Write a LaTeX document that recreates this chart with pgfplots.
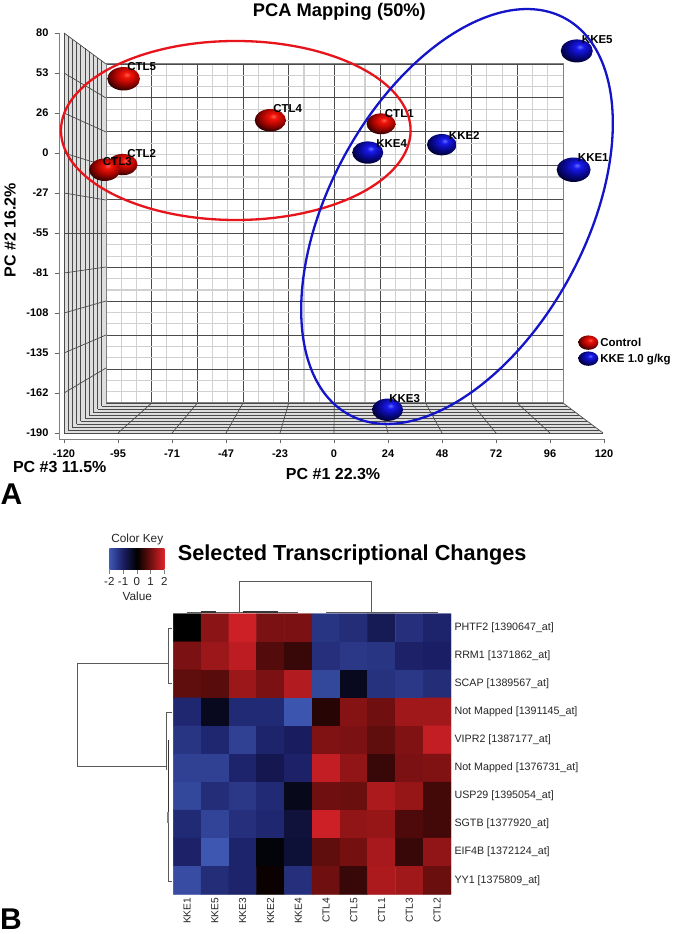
\documentclass[border=0pt]{standalone}
\usepackage{pgfplots}
\pgfplotsset{compat=1.18}
\usepackage{fontspec}
\setmainfont{Liberation Sans}
\newcommand\fs[1]{\fontsize{#1}{#1}\selectfont}
\definecolor{ctlred}{RGB}{232,20,28}
\definecolor{kkeblue}{RGB}{20,20,200}
\definecolor{gridd}{RGB}{75,75,75}
\definecolor{gridl}{RGB}{208,208,208}
\definecolor{wallc}{RGB}{222,222,222}
\definecolor{dend}{RGB}{90,90,90}
\definecolor{ra}{RGB}{255,95,80}\definecolor{rb}{RGB}{240,20,10}\definecolor{rc}{RGB}{175,5,0}\definecolor{rd}{RGB}{50,0,0}\definecolor{re}{RGB}{30,0,0}
\definecolor{ba}{RGB}{100,110,255}\definecolor{bb}{RGB}{25,25,235}\definecolor{bc}{RGB}{10,10,155}\definecolor{bd}{RGB}{0,0,50}\definecolor{be}{RGB}{0,0,30}
\definecolor{ka}{RGB}{62,88,178}\definecolor{kb}{RGB}{26,30,100}\definecolor{kd}{RGB}{112,15,15}\definecolor{ke}{RGB}{222,35,42}
\pgfdeclareradialshading{redballsh}{\pgfpoint{5bp}{9bp}}{
 color(0bp)=(ra);color(6bp)=(rb);color(17bp)=(rc);color(31bp)=(rd);color(100bp)=(re)}
\pgfdeclareradialshading{blueballsh}{\pgfpoint{5bp}{9bp}}{
 color(0bp)=(ba);color(6bp)=(bb);color(17bp)=(bc);color(31bp)=(bd);color(100bp)=(be)}
\pgfdeclareplotmark{redball}{\pgfpathellipse{\pgfpointorigin}{\pgfqpoint{\pgfplotmarksize}{0pt}}{\pgfqpoint{0pt}{0.72\pgfplotmarksize}}\pgfshadepath{redballsh}{0}\pgfusepath{discard}}
\pgfdeclareplotmark{blueball}{\pgfpathellipse{\pgfpointorigin}{\pgfqpoint{\pgfplotmarksize}{0pt}}{\pgfqpoint{0pt}{0.72\pgfplotmarksize}}\pgfshadepath{blueballsh}{0}\pgfusepath{discard}}
\pgfdeclarehorizontalshading{keysh}{100bp}{
 color(0bp)=(ka);color(25bp)=(ka);color(37.5bp)=(kb);color(50bp)=(black);color(62.5bp)=(kd);color(75bp)=(ke);color(100bp)=(ke)}
\pgfplotsset{colormap={hm}{rgb255(0cm)=(62,88,178) rgb255(1cm)=(26,30,100) rgb255(2cm)=(0,0,0) rgb255(3cm)=(112,15,15) rgb255(4cm)=(222,35,42)}}
\newcommand\seg[5]{\addplot[#1,mark=none] coordinates {(#2,#3) (#4,#5)};}
\newcommand\depth[4]{\seg{gridd,line width=0.8pt}{#1}{#2}{#1}{#3}\seg{gridd,line width=0.8pt}{#1}{#3}{#4}{#3}}
\newcommand\wdiag[2]{\seg{gridd,line width=0.7pt}{64}{#1}{106}{#2}}
\newcommand\fdiag[2]{\seg{gridd,line width=0.7pt}{#1}{433}{#2}{403}}
\newcommand\ball[5]{\addplot[only marks,mark=#1,mark size=#2pt,forget plot] coordinates {(#3,#4)};}
\newcommand\lab[3]{\node[font=\fs{11.5}\bfseries,inner sep=0pt,text=black] at (axis cs:#1,#2) {#3};}
\pgfplotsset{pxaxis/.style={at={(0pt,0pt)},anchor=south west,scale only axis,width=673pt,height=934pt,xmin=0,xmax=673,ymin=0,ymax=934,y dir=reverse,hide axis,clip=false}}
\begin{document}
\begin{tikzpicture}
\path[use as bounding box,fill=white] (0pt,0pt) rectangle (673pt,934pt);
% floor and left wall
\begin{axis}[pxaxis]
\addplot[fill=wallc,draw=none] coordinates {(64,33) (106,64) (106,403) (64,433)} -- cycle;
\addplot[fill=wallc,draw=none] coordinates {(106,403) (563,403) (603,433) (64,433)} -- cycle;
\depth{64}{33}{433}{603}
\depth{68.2}{36.1}{430}{599}
\depth{72.4}{39.2}{427}{595}
\depth{76.6}{42.3}{424}{591}
\depth{80.8}{45.4}{421}{587}
\depth{85}{48.5}{418}{583}
\depth{89.2}{51.6}{415}{579}
\depth{93.4}{54.7}{412}{575}
\depth{97.6}{57.8}{409}{571}
\depth{101.8}{60.9}{406}{567}
\wdiag{33}{64}\wdiag{73}{98}\wdiag{113}{132}\wdiag{153}{166}\wdiag{193}{200}\wdiag{233}{233}\wdiag{273}{267}\wdiag{313}{301}\wdiag{353}{335}\wdiag{393}{368}
\fdiag{118}{151.7}\fdiag{172}{197.4}\fdiag{226}{243}\fdiag{280}{288.7}\fdiag{334}{334.3}\fdiag{388}{380}\fdiag{442}{425.6}\fdiag{496}{471.4}\fdiag{550}{517.2}\fdiag{603}{563}
\end{axis}
% back wall
\begin{axis}[at={(106pt,531pt)},anchor=south west,scale only axis,width=457pt,height=339pt,
 xmin=-120,xmax=120,ymin=-190,ymax=80,xtick={-120,-96,-72,-48,-24,0,24,48,72,96,120},
 ytick={-190,-163,-136,-109,-82,-55,-28,-1,26,53,80},
 xticklabels={},yticklabels={},minor tick num=2,grid=both,
 major tick length=0pt,minor tick length=0pt,
 major grid style={gridd,line width=0.9pt},minor grid style={gridl,line width=1.1pt},
 axis line style={gridd!70,line width=1pt}]
\end{axis}
% PCA scatter with its ticks
\begin{axis}[at={(59.5pt,495pt)},anchor=south west,scale only axis,width=544.5pt,height=406pt,
 xmin=-122,xmax=120,ymin=-193.05,ymax=81,clip=false,
 axis x line=bottom,axis y line=left,axis line style={-,gray,line width=0.9pt},
 tick style={gray!80!black,line width=0.8pt},tick align=outside,major tick length=4.5pt,
 xtick={-120,-96,-72,-48,-24,0,24,48,72,96,120},
 xticklabels={-120,-95,-71,-47,-23,0,24,48,72,96,120},
 ytick={-189,-162,-135,-108,-81,-54,-27,0,27,54,81},
 yticklabels={-190,-162,-135,-108,-81,-55,-27,0,26,53,80},
 tick label style={font=\fs{11}\bfseries,text=black},
 xticklabel style={yshift=-2.5pt},yticklabel style={xshift=-3pt},
 title={PCA Mapping (50\%)},
 every axis title/.style={at={(axis cs:2.4,95)},anchor=center,font=\fs{18.3}\bfseries},
 xlabel={PC \#1 22.3\%},
 every axis x label/.style={at={(axis cs:-0.4,-216.7)},anchor=center,font=\fs{16}\bfseries},
 ylabel={PC \#2 16.2\%},
 every axis y label/.style={at={(axis cs:-144,-52)},anchor=center,rotate=90,font=\fs{16}\bfseries},
 legend style={at={(axis cs:108.5,-123)},anchor=north west,draw=none,fill=none,font=\fs{11.5}\bfseries,
   inner sep=0pt,row sep=1.6pt,/tikz/every even column/.append style={column sep=0pt}},
 legend cell align=left]
\ball{redball}{16.3}{-93.5}{50.1}{}
\ball{redball}{15.6}{-28.3}{22.1}{}
\ball{redball}{14.8}{-93.9}{-7.8}{}
\ball{redball}{15.6}{-101.9}{-11.3}{}
\ball{redball}{14.5}{20.9}{19.7}{}
\ball{blueball}{15.5}{15}{0.3}{}
\ball{blueball}{14.8}{47.9}{5.6}{}
\ball{blueball}{17}{106.5}{-11.3}{}
\ball{blueball}{16}{107.9}{68.9}{}
\ball{blueball}{15.5}{23.8}{-173.3}{}
\addlegendimage{only marks,mark=redball,mark size=10pt}
\addlegendentry{Control}
\addlegendimage{only marks,mark=blueball,mark size=10pt}
\addlegendentry{KKE 1.0 g/kg}
\end{axis}
% heatmap
\begin{axis}[at={(173.3pt,39.7pt)},anchor=south west,scale only axis,width=277.7pt,height=280.6pt,
 xmin=-0.5,xmax=9.5,ymin=-0.5,ymax=9.5,y dir=reverse,enlargelimits=false,clip=false,
 colormap name=hm,point meta min=-2,point meta max=2,
 axis line style={draw=none},major tick length=0pt,
 xtick={0,...,9},ytick={0,...,9},yticklabel pos=right,
 xticklabels={KKE1,KKE5,KKE3,KKE2,KKE4,CTL4,CTL5,CTL1,CTL3,CTL2},
 yticklabels={PHTF2 [1390647\_at],RRM1 [1371862\_at],SCAP [1389567\_at],Not Mapped [1391145\_at],VIPR2 [1387177\_at],Not Mapped [1376731\_at],USP29 [1395054\_at],SGTB [1377920\_at],EIF4B [1372124\_at],YY1 [1375809\_at]},
 xticklabel style={rotate=90,anchor=east,font=\fs{10.2},text=black!85},
 yticklabel style={font=\fs{10.7},text=black!85}]
\addplot[matrix plot*,mesh/cols=10,point meta=explicit] coordinates {
(0,0)[0.0] (1,0)[1.25] (2,0)[1.85] (3,0)[1.1] (4,0)[1.1] (5,0)[-1.4] (6,0)[-1.25] (7,0)[-0.85] (8,0)[-1.3] (9,0)[-1.1]
(0,1)[1.1] (1,1)[1.4] (2,1)[1.7] (3,1)[0.75] (4,1)[0.5] (5,1)[-1.3] (6,1)[-1.45] (7,1)[-1.4] (8,1)[-1.05] (9,1)[-1.0]
(0,2)[0.85] (1,2)[0.8] (2,2)[1.4] (3,2)[1.1] (4,2)[1.6] (5,2)[-1.7] (6,2)[-0.3] (7,2)[-1.35] (8,2)[-1.45] (9,2)[-1.25]
(0,3)[-1.15] (1,3)[-0.3] (2,3)[-1.2] (3,3)[-1.2] (4,3)[-1.95] (5,3)[0.35] (6,3)[1.2] (7,3)[1.0] (8,3)[1.45] (9,3)[1.45]
(0,4)[-1.4] (1,4)[-1.15] (2,4)[-1.6] (3,4)[-1.1] (4,4)[-0.95] (5,4)[1.15] (6,4)[1.1] (7,4)[0.85] (8,4)[1.15] (9,4)[1.75]
(0,5)[-1.6] (1,5)[-1.6] (2,5)[-1.1] (3,5)[-0.8] (4,5)[-1.05] (5,5)[1.75] (6,5)[1.3] (7,5)[0.5] (8,5)[1.1] (9,5)[1.15]
(0,6)[-1.7] (1,6)[-1.25] (2,6)[-1.45] (3,6)[-1.2] (4,6)[-0.25] (5,6)[1.0] (6,6)[0.95] (7,6)[1.55] (8,6)[1.35] (9,6)[0.6]
(0,7)[-1.2] (1,7)[-1.65] (2,7)[-1.3] (3,7)[-1.15] (4,7)[-0.6] (5,7)[1.85] (6,7)[1.3] (7,7)[1.35] (8,7)[0.7] (9,7)[0.6]
(0,8)[-1.05] (1,8)[-2.0] (2,8)[-1.1] (3,8)[-0.1] (4,8)[-0.55] (5,8)[0.85] (6,8)[1.05] (7,8)[1.5] (8,8)[0.5] (9,8)[1.3]
(0,9)[-1.8] (1,9)[-1.25] (2,9)[-1.1] (3,9)[0.1] (4,9)[-1.3] (5,9)[1.0] (6,9)[0.5] (7,9)[1.55] (8,9)[1.45] (9,9)[0.95]
};
\end{axis}
% colour key
\begin{axis}[at={(109.3pt,364.3pt)},anchor=south west,scale only axis,width=55pt,height=21pt,
 xmin=-2,xmax=2,ymin=0,ymax=1,axis x line=bottom,axis y line=none,axis line style={-,draw=none},
 xtick={-2,-1,0,1,2},xticklabels={-2,-1,0,1,2},tick align=outside,major tick length=4pt,
 tick style={gray,line width=0.6pt},
 xticklabel style={font=\fs{11.5},text=black!85}]
\path[shading=keysh] (axis cs:-2,0) rectangle (axis cs:2,1);
\end{axis}
% annotations in picture pixels
\begin{axis}[pxaxis]
\lab{141.7}{67}{CTL5}\lab{287.7}{108.7}{CTL4}\lab{141.7}{153.7}{CTL2}\lab{117.3}{162}{CTL3}\lab{399.3}{113.3}{CTL1}
\lab{391.7}{143.3}{KKE4}\lab{464.3}{135}{KKE2}\lab{593.3}{157.3}{KKE1}\lab{597.3}{40}{KKE5}\lab{404.7}{398.3}{KKE3}
\node[font=\fs{16}\bfseries] at (axis cs:59.7,467) {PC \#3 11.5\%};
\node[font=\fs{30}\bfseries,inner sep=0pt] at (axis cs:11.5,494) {A};
\node[font=\fs{30}\bfseries,inner sep=0pt] at (axis cs:11,919) {B};
\node[font=\fs{21.7}\bfseries,anchor=west,inner sep=0pt] at (axis cs:177.7,555) {Selected Transcriptional Changes};
\node[font=\fs{11.8},text=black!85] at (axis cs:137.3,539.7) {Color Key};
\node[font=\fs{11.8},text=black!85] at (axis cs:137.3,596.3) {Value};
% top dendrogram
\seg{dend,line width=0.8pt}{239.3}{612.3}{239.3}{581.3}
\seg{dend,line width=0.8pt}{239.3}{581.3}{371.7}{581.3}
\seg{dend,line width=0.8pt}{371.7}{581.3}{371.7}{612.3}
\seg{dend,line width=0.8pt}{186.7}{612.3}{298}{612.3}
\seg{dend,line width=0.8pt}{326}{612.3}{438}{612.3}
\seg{dend!60!black,line width=1.3pt}{200.7}{612}{216}{612}
\seg{dend!60!black,line width=1.3pt}{242.7}{612}{278}{612}
% left dendrogram
\seg{dend,line width=0.8pt}{168.3}{663.3}{77.3}{663.3}
\seg{dend,line width=0.8pt}{77.3}{663.3}{77.3}{766.5}
\seg{dend,line width=0.8pt}{77.3}{766.5}{166}{766.5}
\seg{dend,line width=0.8pt}{172}{628.3}{168.3}{628.3}
\seg{dend,line width=0.8pt}{168.3}{628.3}{168.3}{683.3}
\seg{dend,line width=0.8pt}{168.3}{683.3}{172}{683.3}
\seg{dend,line width=0.8pt}{172}{712.7}{166}{712.7}
\seg{dend,line width=0.8pt}{166}{712.7}{166}{770}
\seg{dend!60!black,line width=1.2pt}{168.5}{740}{168.5}{812}
\seg{gray,line width=1.8pt}{168}{812}{168}{823}
\seg{dend,line width=0.8pt}{168}{823}{168}{881.5}
\seg{dend,line width=0.8pt}{168}{881.5}{172}{881.5}
\end{axis}
\draw[ctlred,line width=2.3pt] (235.8pt,803.5pt) ellipse [x radius=174.8pt,y radius=89.5pt];
\draw[kkeblue,line width=2.3pt,rotate around={61.4:(457pt,717.5pt)}] (457pt,717.5pt) ellipse [x radius=225.7pt,y radius=127.9pt];
\end{tikzpicture}
\end{document}
